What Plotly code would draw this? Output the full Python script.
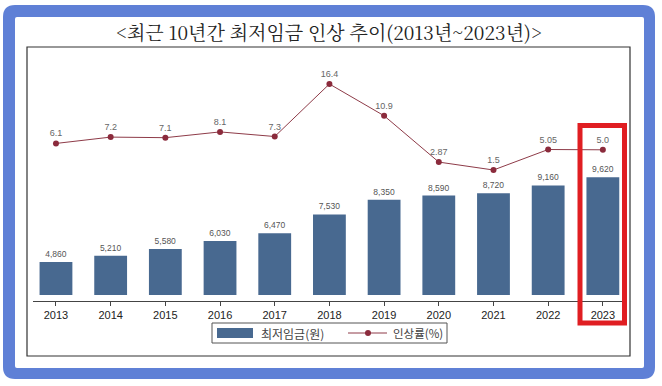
import plotly.graph_objects as go

# ---- data ----
years = ["2013", "2014", "2015", "2016", "2017", "2018", "2019", "2020", "2021", "2022", "2023"]
min_wage = [4860, 5210, 5580, 6030, 6470, 7530, 8350, 8590, 8720, 9160, 9620]
raise_rate = [6.1, 7.2, 7.1, 8.1, 7.3, 16.4, 10.9, 2.87, 1.5, 5.05, 5.0]
raise_labels = ["6.1", "7.2", "7.1", "8.1", "7.3", "16.4", "10.9", "2.87", "1.5", "5.05", "5.0"]
title_text = "<최근 10년간 최저임금 인상 추이(2013년~2023년)>"
bar_name = "최저임금(원)"
line_name = "인상률(%)"

W, H = 662, 386
BAR_COLOR = "#486990"
LINE_COLOR = "#8E3B48"
MARK_COLOR = "#8B2B3C"
FRAME_BLUE = "#5F80D6"


def X(px):
    return px / W


def Y(py):
    return 1 - py / H


fig = go.Figure()
fig.add_trace(go.Bar(
    x=years, y=min_wage, name=bar_name, width=0.6,
    marker=dict(color=BAR_COLOR, line=dict(width=0)),
    texttemplate="%{y:,}", textposition="outside", constraintext="none",
    textfont=dict(size=8.5, color="#555", family="Liberation Sans, Arial"),
    cliponaxis=False, yaxis="y", showlegend=False,
))
fig.add_trace(go.Scatter(
    x=years, y=raise_rate, name=line_name, yaxis="y2",
    mode="lines+markers+text", text=raise_labels, textposition="top center",
    textfont=dict(size=9, color="#666", family="Liberation Sans, Arial"),
    line=dict(color=LINE_COLOR, width=1),
    marker=dict(size=6, color=MARK_COLOR),
    cliponaxis=False, showlegend=False,
))


def rounded_rect(x0, y0, x1, y1, r):
    return (f"M{X(x0 + r)},{Y(y0)} L{X(x1 - r)},{Y(y0)} Q{X(x1)},{Y(y0)} {X(x1)},{Y(y0 + r)} "
            f"L{X(x1)},{Y(y1 - r)} Q{X(x1)},{Y(y1)} {X(x1 - r)},{Y(y1)} "
            f"L{X(x0 + r)},{Y(y1)} Q{X(x0)},{Y(y1)} {X(x0)},{Y(y1 - r)} "
            f"L{X(x0)},{Y(y0 + r)} Q{X(x0)},{Y(y0)} {X(x0 + r)},{Y(y0)} Z")


shapes = [
    # blue frame
    dict(type="path", xref="paper", yref="paper", path=rounded_rect(3, 5, 655, 379, 12),
         fillcolor=FRAME_BLUE, line=dict(width=0), layer="below"),
    dict(type="path", xref="paper", yref="paper", path=rounded_rect(15, 17, 644, 368, 2),
         fillcolor="white", line=dict(width=0), layer="below"),
    # chart box
    dict(type="rect", xref="paper", yref="paper", x0=X(27), x1=X(630), y0=Y(47), y1=Y(356),
         line=dict(color="#333", width=1.2), fillcolor="rgba(0,0,0,0)", layer="below"),
    # red highlight
    dict(type="rect", xref="paper", yref="paper", x0=X(580), x1=X(624.5), y0=Y(125.5), y1=Y(323),
         line=dict(color="#E01E22", width=5), fillcolor="rgba(0,0,0,0)", layer="above"),
    # legend box
    dict(type="rect", xref="paper", yref="paper", x0=X(212), x1=X(447), y0=Y(323), y1=Y(343),
         line=dict(color="#555", width=1), fillcolor="white", layer="above"),
    dict(type="rect", xref="paper", yref="paper", x0=X(217), x1=X(253), y0=Y(328), y1=Y(338),
         line=dict(width=0), fillcolor=BAR_COLOR, layer="above"),
    dict(type="line", xref="paper", yref="paper", x0=X(348), x1=X(387), y0=Y(333), y1=Y(333),
         line=dict(color=LINE_COLOR, width=1), layer="above"),
    dict(type="circle", xref="paper", yref="paper", x0=X(365), x1=X(371), y0=Y(330), y1=Y(336),
         line=dict(width=0), fillcolor=MARK_COLOR, layer="above"),
]

annotations = [
    dict(text=title_text, xref="paper", yref="paper", x=X(329), y=Y(32),
         xanchor="center", yanchor="middle", showarrow=False,
         font=dict(size=19, color="#222", family="Noto Serif CJK KR, Noto Sans CJK KR")),
    dict(text=bar_name, xref="paper", yref="paper", x=X(259), y=Y(333),
         xanchor="left", yanchor="middle", showarrow=False,
         font=dict(size=12, color="#444", family="Noto Sans CJK KR")),
    dict(text=line_name, xref="paper", yref="paper", x=X(391), y=Y(333),
         xanchor="left", yanchor="middle", showarrow=False,
         font=dict(size=11.5, color="#444", family="Noto Sans CJK KR")),
]

fig.update_layout(
    width=W, height=H, margin=dict(l=0, r=0, t=0, b=0),
    paper_bgcolor="white", plot_bgcolor="rgba(0,0,0,0)",
    showlegend=False, shapes=shapes, annotations=annotations,
    xaxis=dict(type="category", range=[-0.42, 10.35], domain=[X(33), X(622)],
               anchor="free", position=Y(301),
               showline=True, linecolor="#444", linewidth=1,
               ticks="outside", ticklen=4, tickcolor="#444", tickwidth=1,
               tickfont=dict(size=11, color="#222", family="Liberation Sans, Arial"),
               showgrid=False, zeroline=False),
    yaxis=dict(domain=[Y(295), Y(60)], range=[3000, 16210], visible=False,
               anchor="free", position=0, showgrid=False, zeroline=False),
    yaxis2=dict(overlaying="y", range=[-20.16, 20.56], visible=False,
                anchor="free", position=0, showgrid=False, zeroline=False),
)

fig.write_html(
    "out.html",
    config={"displayModeBar": False},
    post_script="document.body.style.margin='0';document.body.style.overflow='hidden';",
)
